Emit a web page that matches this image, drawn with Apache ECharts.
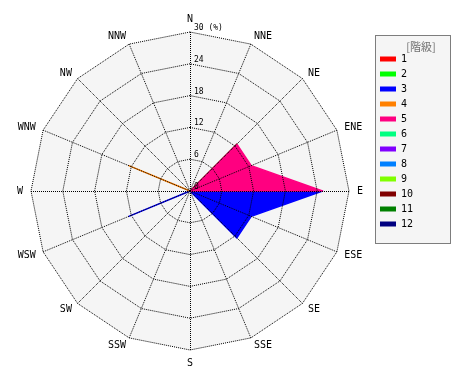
<!DOCTYPE html>
<html>
<head>
<meta charset="utf-8">
<script src="https://cdn.jsdelivr.net/npm/echarts@6/dist/echarts.min.js"></script>
<style>html,body{margin:0;padding:0;background:#fff}#c{width:470px;height:380px}</style>
</head>
<body>
<div id="c"></div>
<script>
// Directions, clockwise from north
var directions = ['N','NNE','NE','ENE','E','ESE','SE','SSE','S','SSW','SW','WSW','W','WNW','NW','NNW'];
// Class names (legend)
var classes = ['1','2','3','4','5','6','7','8','9','10','11','12'];
var classColors = ['#ff0000','#00ff00','#0000ff','#ff8000','#ff0080','#00ff80','#8000ff','#0080ff','#80ff00','#800000','#008000','#000080'];
// Frequencies (%) per class, clockwise from N
var class1  = [0,0,0,0,0,0,0,0,0,0,0,0,0,0,0,0];
var class2  = [0,0,12.5,0,0,0,0,0,0,0,0,0,0,0,0,0];
var class3  = [0,0,0,0,25,12.5,12.5,0,0,0,0,12.5,0,0,0,0];
var class4  = [0,0,0,0,0,0,0,0,0,0,0,0,0,12.5,0,0];
var class5  = [0,0,12.5,12.5,25,0,0,0,0,0,0,0,0,0,0,0];
var class6  = [0,0,0,0,0,0,0,0,0,0,0,0,0,0,0,0];
var class7  = [0,0,0,0,0,0,0,0,0,0,0,0,0,0,0,0];
var class8  = [0,0,0,0,0,0,0,0,0,0,0,0,0,0,0,0];
var class9  = [0,0,0,0,0,0,0,0,0,0,0,0,0,0,0,0];
var class10 = [0,0,0,0,0,0,0,0,0,0,0,0,0,0,0,0];
var class11 = [0,0,0,0,0,0,0,0,0,0,0,0,0,0,0,0];
var class12 = [0,0,0,0,0,0,0,0,0,0,0,0,0,0,0,0];
var classValues = [class1,class2,class3,class4,class5,class6,class7,class8,class9,class10,class11,class12];
// Radial axis
var radialMax = 30;
var radialStep = 6;
var radialUnit = '(%)';

// radar indicators run counter-clockwise; reorder
function ccw(arr){ var out=[]; for (var i=0;i<arr.length;i++){ out.push(arr[(arr.length - i) % arr.length]); } return out; }
var dirCCW = ccw(directions);

var mono = 'DejaVu Sans Mono';
var dotted = {color:'#000', width:1, type:[1,1], cap:'butt'};

function indicators(withLabel){
  return dirCCW.map(function(d,i){
    var o = {name:d, min:0, max:radialMax};
    if (withLabel && i===0) o.axisLabel = {show:true};
    return o;
  });
}

var series = classes.map(function(c,i){
  return {
    type:'radar', radarIndex:0, name:c, z:2,
    symbol:'none', silent:true,
    lineStyle:{color:classColors[i], width:1.5},
    areaStyle:{color:classColors[i], opacity:1},
    itemStyle:{color:classColors[i]},
    data:[{name:c, value:ccw(classValues[i])}]
  };
});

var chart = echarts.init(document.getElementById('c'), null, {renderer:'canvas'});
chart.setOption({
  animation:false,
  backgroundColor:'#fff',
  title:{text:'[階級]', left:416, top:36, textAlign:'center',
    textStyle:{fontSize:11, fontWeight:'normal', color:'#707070', fontFamily:'Noto Sans CJK JP'}},
  graphic:[{type:'rect', z:0, silent:true, shape:{x:375.5,y:35.5,width:75,height:208},
    style:{fill:'#f5f5f5', stroke:'#000', lineWidth:1, lineDash:[1,1]}}],
  legend:{orient:'vertical', left:380, top:53, padding:0, itemGap:3,
    itemWidth:16, itemHeight:5, icon:'rect', data:classes, selectedMode:false,
    textStyle:{fontSize:10, lineHeight:12, color:'#000', fontFamily:mono}},
  radar:[
    {center:[190,191], radius:159, startAngle:90, shape:'polygon', splitNumber:radialMax/radialStep, z:0,
     indicator:indicators(false),
     axisName:{color:'#000', fontSize:10, fontFamily:mono},
     nameGap:8,
     axisLine:{show:false}, splitLine:{show:false}, axisTick:{show:false}, axisLabel:{show:false},
     splitArea:{show:true, areaStyle:{color:['#f5f5f5']}}},
    {center:[190,191], radius:159, startAngle:90, shape:'polygon', splitNumber:radialMax/radialStep, z:10,
     indicator:indicators(true),
     axisName:{show:false},
     axisLine:{show:true, lineStyle:dotted}, splitLine:{show:true, lineStyle:dotted},
     axisTick:{show:false},
     axisLabel:{show:false, fontSize:8, color:'#000', fontFamily:mono, margin:-4,
       align:'left', verticalAlign:'bottom',
       formatter:function(v){ return v===radialMax ? v+' '+radialUnit : String(v); }},
     splitArea:{show:false}}
  ],
  series:series
});
</script>
</body>
</html>
